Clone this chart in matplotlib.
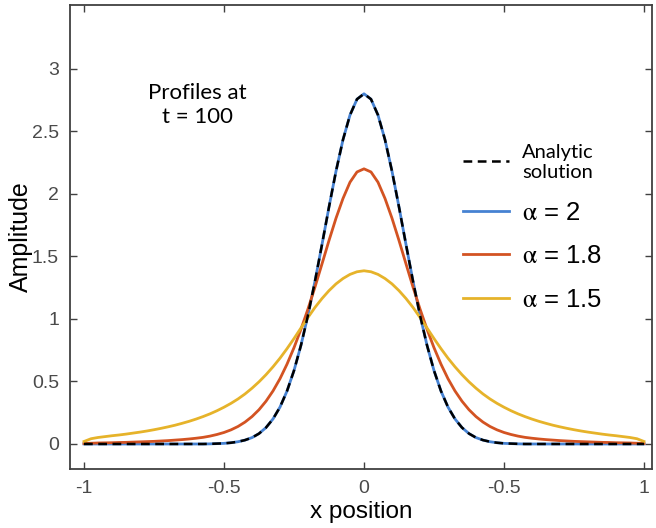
import matplotlib
matplotlib.use("Agg")
import matplotlib.pyplot as plt
from matplotlib.lines import Line2D

# ---------------- data ----------------
x_pos = [-1.000, -0.975, -0.950, -0.925, -0.900, -0.875, -0.850, -0.825, -0.800, -0.775,
         -0.750, -0.725, -0.700, -0.675, -0.650, -0.625, -0.600, -0.575, -0.550, -0.525,
         -0.500, -0.475, -0.450, -0.425, -0.400, -0.375, -0.350, -0.325, -0.300, -0.275,
         -0.250, -0.225, -0.200, -0.175, -0.150, -0.125, -0.100, -0.075, -0.050, -0.025,
         0.000,
         0.025, 0.050, 0.075, 0.100, 0.125, 0.150, 0.175, 0.200, 0.225, 0.250,
         0.275, 0.300, 0.325, 0.350, 0.375, 0.400, 0.425, 0.450, 0.475, 0.500,
         0.525, 0.550, 0.575, 0.600, 0.625, 0.650, 0.675, 0.700, 0.725, 0.750,
         0.775, 0.800, 0.825, 0.850, 0.875, 0.900, 0.925, 0.950, 0.975, 1.000]

amp_alpha_2 = [0.000, 0.000, 0.000, 0.000, 0.000, 0.000, 0.000, 0.000, 0.000, 0.000,
               0.000, 0.000, 0.000, 0.000, 0.000, 0.000, 0.000, 0.000, 0.001, 0.003,
               0.005, 0.010, 0.018, 0.031, 0.051, 0.083, 0.131, 0.200, 0.295, 0.423,
               0.587, 0.790, 1.030, 1.302, 1.595, 1.895, 2.181, 2.433, 2.630, 2.757,
               2.800,
               2.757, 2.630, 2.433, 2.181, 1.895, 1.595, 1.302, 1.030, 0.790, 0.587,
               0.423, 0.295, 0.200, 0.131, 0.083, 0.051, 0.031, 0.018, 0.010, 0.005,
               0.003, 0.001, 0.000, 0.000, 0.000, 0.000, 0.000, 0.000, 0.000, 0.000,
               0.000, 0.000, 0.000, 0.000, 0.000, 0.000, 0.000, 0.000, 0.000, 0.000]

amp_analytic = [0.000, 0.000, 0.000, 0.000, 0.000, 0.000, 0.000, 0.000, 0.000, 0.000,
                0.000, 0.000, 0.000, 0.000, 0.000, 0.000, 0.000, 0.000, 0.001, 0.003,
                0.005, 0.010, 0.018, 0.031, 0.051, 0.083, 0.131, 0.200, 0.295, 0.423,
                0.587, 0.790, 1.030, 1.302, 1.595, 1.895, 2.181, 2.433, 2.630, 2.757,
                2.800,
                2.757, 2.630, 2.433, 2.181, 1.895, 1.595, 1.302, 1.030, 0.790, 0.587,
                0.423, 0.295, 0.200, 0.131, 0.083, 0.051, 0.031, 0.018, 0.010, 0.005,
                0.003, 0.001, 0.000, 0.000, 0.000, 0.000, 0.000, 0.000, 0.000, 0.000,
                0.000, 0.000, 0.000, 0.000, 0.000, 0.000, 0.000, 0.000, 0.000, 0.000]

amp_alpha_18 = [0.004, 0.006, 0.008, 0.009, 0.010, 0.012, 0.013, 0.015, 0.017, 0.019,
                0.021, 0.024, 0.027, 0.031, 0.035, 0.040, 0.046, 0.053, 0.063, 0.076,
                0.092, 0.113, 0.140, 0.175, 0.219, 0.274, 0.342, 0.424, 0.522, 0.638,
                0.770, 0.918, 1.080, 1.255, 1.440, 1.627, 1.805, 1.963, 2.093, 2.175,
                2.200,
                2.175, 2.093, 1.963, 1.805, 1.627, 1.440, 1.255, 1.080, 0.918, 0.770,
                0.638, 0.522, 0.424, 0.342, 0.274, 0.219, 0.175, 0.140, 0.113, 0.092,
                0.076, 0.063, 0.053, 0.046, 0.040, 0.035, 0.031, 0.027, 0.024, 0.021,
                0.019, 0.017, 0.015, 0.013, 0.012, 0.010, 0.009, 0.008, 0.006, 0.004]

amp_alpha_15 = [0.020, 0.042, 0.052, 0.059, 0.066, 0.072, 0.079, 0.087, 0.095, 0.104,
                0.114, 0.125, 0.137, 0.150, 0.165, 0.181, 0.199, 0.219, 0.241, 0.266,
                0.294, 0.325, 0.360, 0.400, 0.446, 0.497, 0.554, 0.617, 0.686, 0.762,
                0.843, 0.928, 1.012, 1.092, 1.163, 1.226, 1.280, 1.323, 1.356, 1.377,
                1.385,
                1.377, 1.356, 1.323, 1.280, 1.226, 1.163, 1.092, 1.012, 0.928, 0.843,
                0.762, 0.686, 0.617, 0.554, 0.497, 0.446, 0.400, 0.360, 0.325, 0.294,
                0.266, 0.241, 0.219, 0.199, 0.181, 0.165, 0.150, 0.137, 0.125, 0.114,
                0.104, 0.095, 0.087, 0.079, 0.072, 0.066, 0.059, 0.052, 0.042, 0.020]

x_ticks = [-1, -0.5, 0, 0.5, 1]
x_tick_labels = ["-1", "-0.5", "0", "-0.5", "1"]
y_ticks = [0, 0.5, 1, 1.5, 2, 2.5, 3]
y_tick_labels = ["0", "0.5", "1", "1.5", "2", "2.5", "3"]

labels = ["Analytic\nsolution", r"$\mathrm{\alpha}$ = 2", r"$\mathrm{\alpha}$ = 1.8", r"$\mathrm{\alpha}$ = 1.5"]

# ---------------- styling ----------------
plt.rcParams["font.family"] = ["Liberation Sans", "DejaVu Sans"]
plt.rcParams["mathtext.fontset"] = "stix"

c_blue = "#4682D2"
c_red = "#D35322"
c_yellow = "#E6B32A"
axis_col = "#404040"

fig = plt.figure(figsize=(6.56, 5.28), dpi=100)
ax = fig.add_axes([70 / 656, 59 / 528, 582 / 656, 464 / 528])

ax.plot(x_pos, amp_alpha_2, color=c_blue, lw=2.0)
ax.plot(x_pos, amp_alpha_18, color=c_red, lw=2.0)
ax.plot(x_pos, amp_alpha_15, color=c_yellow, lw=2.0)
ax.plot(x_pos, amp_analytic, color="black", lw=1.8, ls=(0, (3.5, 2.2)))

ax.set_xlim(-1.05, 1.0286)
ax.set_ylim(-0.2, 3.51)
ax.set_xticks(x_ticks)
ax.set_xticklabels(x_tick_labels)
ax.set_yticks(y_ticks)
ax.set_yticklabels(y_tick_labels)

ax.tick_params(direction="in", length=5, width=1.0, colors=axis_col, labelsize=14,
               top=True, right=True, pad=8, labelcolor="#4a4a4a")
for s in ax.spines.values():
    s.set_color(axis_col)
    s.set_linewidth(1.3)

ax.set_xlabel("x position", fontsize=17.5, color="black", labelpad=3)
ax.set_ylabel("Amplitude", fontsize=18, color="black", labelpad=-1)

ax.text(-0.596, 2.71, "Profiles at\nt = 100", ha="center", va="center",
        fontsize=16, family=["Lato", "DejaVu Sans"], linespacing=1.2)

handles = [Line2D([], [], color="black", lw=1.8, ls=(0, (3.5, 2.2))),
           Line2D([], [], color=c_blue, lw=2.0),
           Line2D([], [], color=c_red, lw=2.0),
           Line2D([], [], color=c_yellow, lw=2.0)]
leg = ax.legend(handles, labels, loc="upper left", bbox_to_anchor=(0.6575, 0.722),
                frameon=False, fontsize=18.5, handlelength=1.8, handletextpad=0.5,
                labelspacing=0.76, borderaxespad=0)
t0 = leg.get_texts()[0]
t0.set_fontsize(14.5)
t0.set_family(["Lato", "DejaVu Sans"])

fig.savefig("out.png", dpi=100)
